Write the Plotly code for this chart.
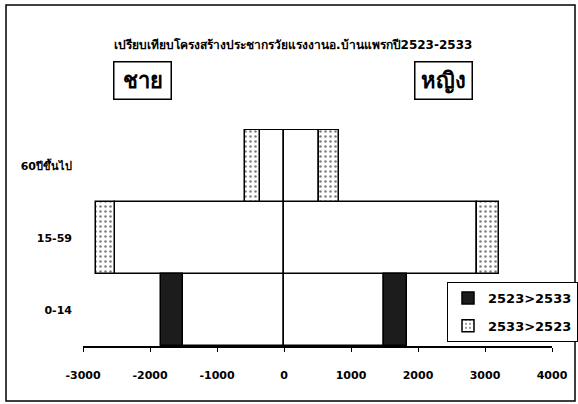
import plotly.graph_objects as go

# age groups, bottom to top
ages = ["0-14", "15-59", "60ปีขึ้นไป"]
male_2523 = [1840, 2520, 360]
male_2533 = [1510, 2810, 580]
female_2523 = [1840, 2880, 520]
female_2533 = [1490, 3210, 820]
x_ticks = [-3000, -2000, -1000, 0, 1000, 2000, 3000, 4000]

title = "เปรียบเทียบโครงสร้างประชากรวัยแรงงานอ.บ้านแพรกปี2523-2533"
name_down = "2523>2533"
name_up = "2533>2523"

W, H = 578, 404
L, R, T, B = 83, 26, 129, 58
pw, ph = W - L - R, H - T - B


def px(x):
    return (x - L) / pw


def py(y):
    return (H - B - y) / ph


# build bar pieces: common part (white), decrease (black), increase (dotted)
ys = ages + ages
base_x, down_b, down_x, up_b, up_x = [], [], [], [], []
for sign, a, b in [(-1, male_2523, male_2533), (1, female_2523, female_2533)]:
    for v23, v33 in zip(a, b):
        lo, hi = min(v23, v33), max(v23, v33)
        base_x.append(sign * lo)
        if v23 > v33:
            down_b.append(sign * lo); down_x.append(sign * (hi - lo))
            up_b.append(None); up_x.append(None)
        else:
            up_b.append(sign * lo); up_x.append(sign * (hi - lo))
            down_b.append(None); down_x.append(None)

line = dict(color="black", width=1.5)
fig = go.Figure()
fig.add_trace(go.Bar(y=ys, x=base_x, base=0, orientation="h", showlegend=False,
                     marker=dict(color="white", line=line)))
fig.add_trace(go.Bar(y=ys, x=down_x, base=down_b, orientation="h", name=name_down,
                     legendgroup="a", marker=dict(color="#1c1c1c", line=line)))
fig.add_trace(go.Bar(y=ys, x=up_x, base=up_b, orientation="h", name=name_up,
                     legendgroup="b",
                     marker=dict(color="white", line=line,
                                 pattern=dict(shape=".", fgcolor="black", bgcolor="white",
                                              size=5, solidity=0.2))))

fam = "DejaVu Sans, Arial, sans-serif"

fig.update_layout(
    width=W, height=H,
    margin=dict(l=L, r=R, t=T, b=B, autoexpand=False),
    barmode="overlay", bargap=0,
    paper_bgcolor="white", plot_bgcolor="white",
    font=dict(family=fam, color="black", size=11, weight="bold"),
    legend=dict(x=px(447), y=py(282), xanchor="left", yanchor="top",
                bordercolor="black", borderwidth=1, bgcolor="white",
                font=dict(size=13), traceorder="grouped", tracegroupgap=8),
    xaxis=dict(range=[-3000, 4000], tickvals=x_ticks,
               ticktext=[str(v) for v in x_ticks],
               showline=True, linecolor="black", linewidth=1.5,
               ticks="outside", ticklen=4, tickcolor="black",
               showgrid=False, zeroline=False, ticklabelstandoff=14),
    yaxis=dict(range=[-0.5, -0.5 + (H - B - T) / 72], showgrid=False,
               zeroline=False, showline=False, ticklabelstandoff=10),
    shapes=[dict(type="rect", xref="paper", yref="paper",
                 x0=px(6), x1=px(575), y0=py(401), y1=py(5),
                 line=dict(color="black", width=1.5))],
    annotations=[
        dict(text=title, xref="paper", yref="paper", x=px(293), y=py(44),
             xanchor="center", yanchor="middle", showarrow=False,
             font=dict(size=12)),
        dict(text="ชาย", xref="paper", yref="paper", x=px(142), y=py(80),
             xanchor="center", yanchor="middle", showarrow=False,
             font=dict(size=22), width=54, height=34,
             bordercolor="black", borderwidth=1.5, borderpad=1),
        dict(text="หญิง", xref="paper", yref="paper", x=px(443), y=py(80),
             xanchor="center", yanchor="middle", showarrow=False,
             font=dict(size=22), width=54, height=34,
             bordercolor="black", borderwidth=1.5, borderpad=1),
    ],
)

fig.write_html("out.html", config={"displayModeBar": False},
               post_script="document.body.style.margin='0';")
